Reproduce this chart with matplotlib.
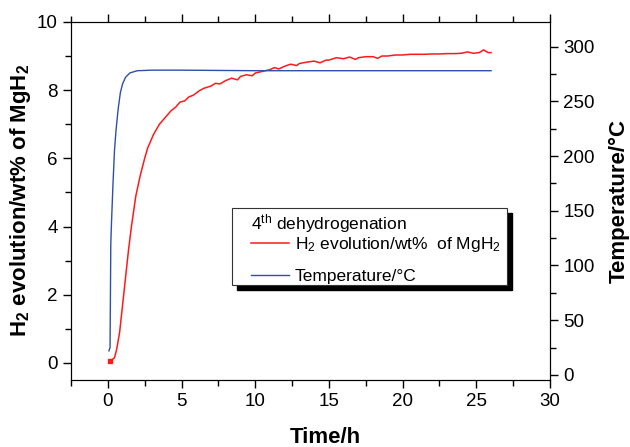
import matplotlib
matplotlib.use("Agg")
import matplotlib.pyplot as plt
from matplotlib.patches import Rectangle
from matplotlib.ticker import MultipleLocator
import matplotlib.transforms as mtransforms

plt.rcParams['font.family'] = ['Liberation Sans', 'DejaVu Sans']
plt.rcParams['mathtext.fontset'] = 'custom'
plt.rcParams['mathtext.rm'] = 'Liberation Sans'
plt.rcParams['mathtext.it'] = 'Liberation Sans'
plt.rcParams['mathtext.bf'] = 'Liberation Sans:bold'

# H2 evolution (wt% of MgH2) vs time (h)
h2_time = [0.15, 0.3, 0.45, 0.6, 0.8, 1.0, 1.2, 1.4, 1.6, 1.9, 2.2, 2.5,
           2.7, 2.9, 3.1, 3.3, 3.5, 3.8, 4.0, 4.3, 4.6, 4.9, 5.2, 5.5,
           5.8, 6.2, 6.5, 7.0, 7.3, 7.6, 8.0, 8.4, 8.8, 9.0, 9.4, 9.8,
           10.0, 10.5, 11.0, 11.3, 11.6, 12.0, 12.4, 12.8, 13.0, 13.5,
           14.0, 14.4, 14.8, 15.0, 15.5, 16.0, 16.4, 16.8, 17.0, 17.5,
           18.0, 18.3, 18.6, 19.0, 19.5, 20.0, 20.5, 21.0, 21.5, 22.0,
           22.5, 23.0, 23.5, 24.0, 24.4, 24.8, 25.2, 25.5, 25.8, 26.0]
h2_wt = [0.05, 0.1, 0.15, 0.4, 0.9, 1.7, 2.5, 3.3, 4.0, 4.9, 5.5, 6.0,
         6.3, 6.5, 6.7, 6.85, 7.0, 7.15, 7.25, 7.4, 7.5, 7.65, 7.68, 7.8,
         7.85, 7.98, 8.05, 8.12, 8.2, 8.18, 8.28, 8.35, 8.3, 8.4, 8.45,
         8.42, 8.5, 8.55, 8.6, 8.66, 8.62, 8.7, 8.76, 8.72, 8.78, 8.82,
         8.85, 8.8, 8.88, 8.88, 8.95, 8.92, 8.97, 8.9, 8.95, 8.98, 8.98,
         8.93, 9.0, 9.0, 9.03, 9.03, 9.05, 9.05, 9.05, 9.06, 9.06, 9.07,
         9.07, 9.08, 9.12, 9.08, 9.1, 9.18, 9.1, 9.1]

# furnace temperature (degC) vs time (h)
temp_time = [0.07, 0.15, 0.2, 0.25, 0.35, 0.45, 0.55, 0.7, 0.85, 1.0,
             1.2, 1.5, 2.0, 3.0, 5.0, 10.0, 15.0, 20.0, 25.0, 26.0]
temp_c = [22, 25, 120, 140, 175, 205, 223, 243, 258, 266,
          272, 276, 278, 278.5, 278.5, 278, 278, 278, 278, 278]

x_ticks = [0, 5, 10, 15, 20, 25, 30]
left_ticks = [0, 2, 4, 6, 8, 10]
right_ticks = [0, 50, 100, 150, 200, 250, 300]


def main():
    fig = plt.figure(figsize=(6.3, 4.47), dpi=100)
    ax = fig.add_axes([0.1127, 0.15, 0.7603, 0.801])
    ax2 = ax.twinx()

    l1, = ax.plot(h2_time, h2_wt, color='#ff1a1a', lw=1.1,
                  label='H$_2$ evolution/wt%  of MgH$_2$')
    ax.plot(h2_time[0], h2_wt[0], 's', color='#ff1a1a', ms=3)
    l2, = ax2.plot(temp_time, temp_c, color='#2f50a8', lw=1.0,
                   label='Temperature/\u00b0C')

    ax.set_xlim(-2.5, 30)
    ax.set_ylim(-0.5, 10)
    ax2.set_ylim(-4.6, 322.6)
    ax.set_xticks(x_ticks)
    ax.set_yticks(left_ticks)
    ax2.set_yticks(right_ticks)
    ax.xaxis.set_minor_locator(MultipleLocator(2.5))
    ax.yaxis.set_minor_locator(MultipleLocator(1))
    ax2.yaxis.set_minor_locator(MultipleLocator(25))

    ax.tick_params(which='both', direction='out', top=True, right=False,
                   labelsize=13.5, width=1)
    ax.tick_params(which='major', length=6)
    ax.tick_params(which='minor', length=4)
    ax2.tick_params(which='both', direction='out', labelsize=13.5, width=1)
    ax2.tick_params(which='major', length=6)
    ax2.tick_params(which='minor', length=4)

    ax.set_xlabel('Time/h', fontsize=16, fontweight='bold')
    ax.xaxis.set_label_coords(0.53, -0.132)
    ax.set_ylabel(r'$\mathbf{H_2}$ evolution/wt% of MgH$_\mathbf{2}$',
                  fontsize=16, fontweight='bold', labelpad=3)
    ax2.set_ylabel('Temperature/\u00b0C', fontsize=16, fontweight='bold',
                   labelpad=10)

    # legend box with a solid drop shadow
    shadow = mtransforms.offset_copy(ax2.transAxes, fig=fig, x=5, y=-5,
                                     units='dots')
    ax2.add_patch(Rectangle((0.336, 0.265), 0.574, 0.215, transform=shadow,
                            facecolor='black', edgecolor='black', zorder=4,
                            clip_on=False))
    ax2.add_patch(Rectangle((0.336, 0.265), 0.574, 0.215,
                            transform=ax2.transAxes, facecolor='white',
                            edgecolor='#333333', lw=0.8, zorder=5,
                            clip_on=False))
    leg = ax2.legend(handles=[l1, l2], title='4$^{th}$ dehydrogenation',
                     loc='upper left', bbox_to_anchor=(0.376, 0.468),
                     fontsize=12.5, title_fontsize=12.5, frameon=False,
                     handlelength=2.2, handletextpad=0.3, borderpad=0,
                     labelspacing=0.83, alignment='left', borderaxespad=0)
    leg._legend_box.sep = 0
    leg.set_zorder(6)

    fig.savefig('out.png', dpi=100)


if __name__ == "__main__":
    main()
